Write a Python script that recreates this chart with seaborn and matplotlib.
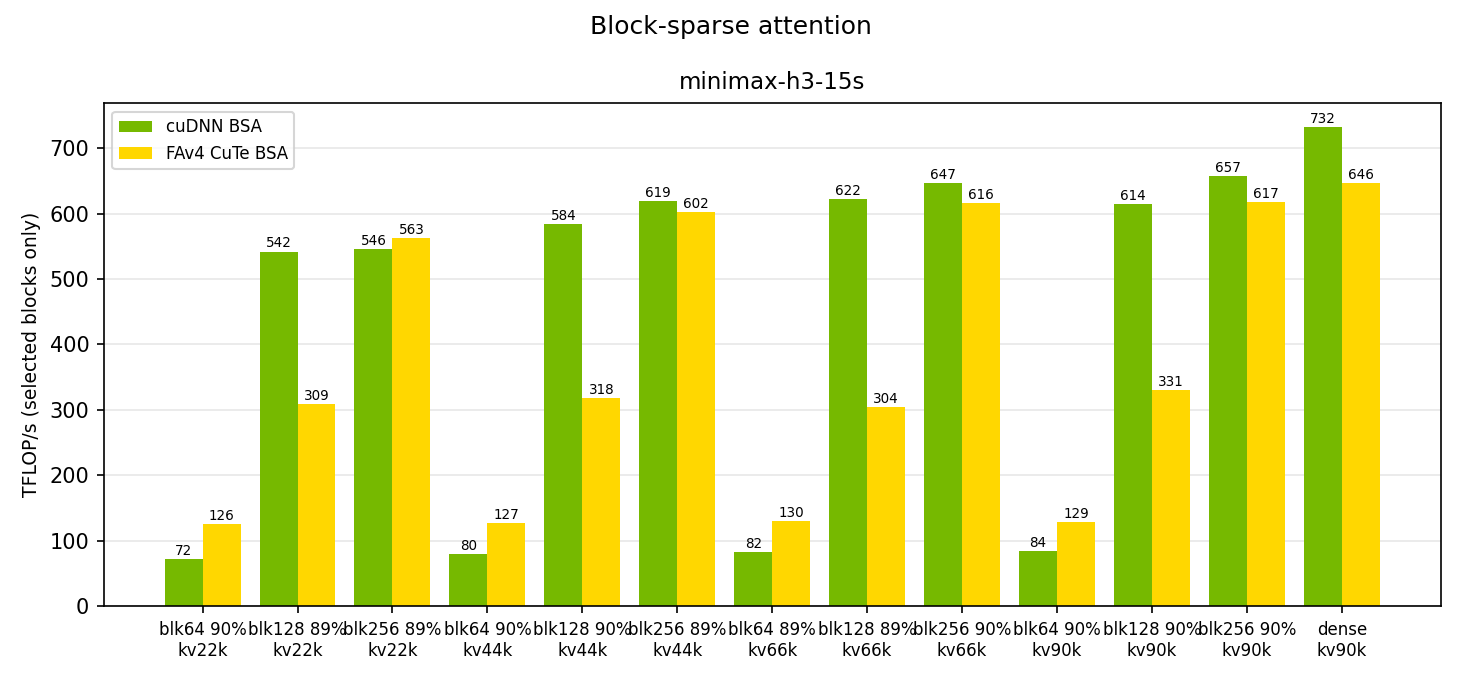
import pandas as pd
import numpy as np
import matplotlib.pyplot as plt
import seaborn as sns

configs = [
    'blk64 90%\nkv22k', 'blk128 89%\nkv22k', 'blk256 89%\nkv22k',
    'blk64 90%\nkv44k', 'blk128 90%\nkv44k', 'blk256 89%\nkv44k',
    'blk64 89%\nkv66k', 'blk128 89%\nkv66k', 'blk256 90%\nkv66k',
    'blk64 90%\nkv90k', 'blk128 90%\nkv90k', 'blk256 90%\nkv90k',
    'dense\nkv90k']

cudnn = [72, 542, 546, 80, 584, 619, 82, 622, 647, 84, 614, 657, 732]
fav4 = [126, 309, 563, 127, 318, 602, 130, 304, 616, 129, 331, 617, 646]

series_names = ['cuDNN BSA', 'FAv4 CuTe BSA']
colors = ['#76b900', '#ffd700']

df = pd.DataFrame({
    'config': configs * 2,
    'tflops': cudnn + fav4,
    'impl': [series_names[0]] * len(configs) + [series_names[1]] * len(configs),
})

fig, ax = plt.subplots(figsize=(9.75, 4.5), dpi=150)
fig.subplots_adjust(left=0.071, right=0.985, top=0.847, bottom=0.102)

sns.barplot(data=df, x='config', y='tflops', hue='impl', order=configs,
            hue_order=series_names, palette=colors, width=0.8,
            linewidth=0, saturation=1, ax=ax)

for cont in ax.containers:
    ax.bar_label(cont, fmt='%d', fontsize=6.5, padding=0.5)

n = len(configs)
ax.set_xlim(-1.04, n - 1 + 1.04)
ax.set_ylim(0, max(cudnn + fav4) * 1.05)
ax.set_yticks(np.arange(0, 701, 100))
ax.grid(axis='y', alpha=0.3)
ax.set_axisbelow(True)

ax.set_xlabel('')
ax.set_ylabel('TFLOP/s (selected blocks only)', fontsize=9)
ax.tick_params(axis='x', labelsize=8)
ax.set_title('minimax-h3-15s', fontsize=11, pad=7)
ax.legend(loc='upper left', fontsize=8)
fig.suptitle('Block-sparse attention', fontsize=12, y=0.978)

plt.savefig('out.png', dpi=150)
